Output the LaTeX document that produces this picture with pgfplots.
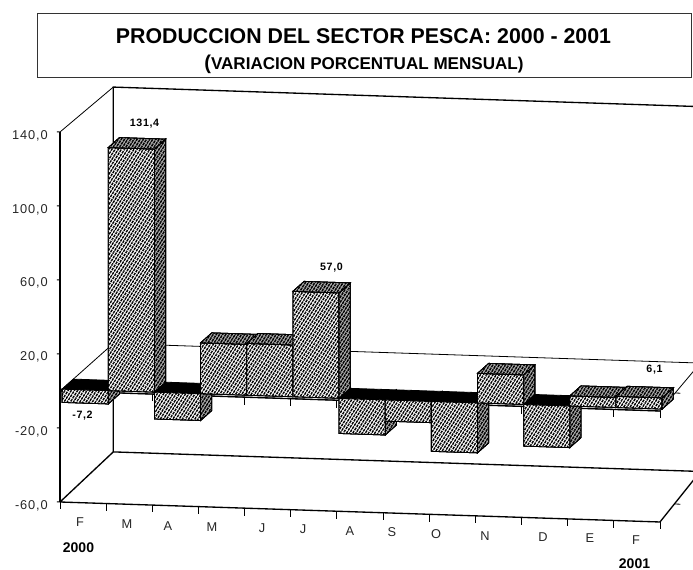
\documentclass[border=0pt]{standalone}
\usepackage{fontspec}
\usepackage{pgfplots}
\pgfplotsset{compat=1.18}
\usetikzlibrary{patterns.meta}
\setmainfont{Liberation Sans}
\newfontfamily\tickfont[LetterSpace=7]{Liberation Sans}
\newfontfamily\valfont[LetterSpace=6]{Liberation Sans}

% 1 px of the reference = 0.75pt
\tikzset{
  frontface/.style={draw=black, line width=0.6pt, fill=white,
    postaction={pattern={Lines[angle=58,distance=2pt,line width=1.05pt]},pattern color=black},
    postaction={pattern={Lines[angle=-32,distance=2.7pt,line width=0.4pt]},pattern color=white}},
  darkface/.style={draw=black, line width=0.6pt, fill=gray!60,
    postaction={pattern={Lines[angle=58,distance=2pt,line width=1.1pt]},pattern color=black},
    postaction={pattern={Lines[angle=-32,distance=2.7pt,line width=0.3pt]},pattern color=white!70!black}},
  blackface/.style={draw=black, line width=0.6pt, fill=black},
}

% x left, x right, value
\newcommand{\posbar}[3]{
  \addplot3[frontface] coordinates {(#1,0.04,0) (#2,0.04,0) (#2,0.04,#3) (#1,0.04,#3)} -- cycle;
  \addplot3[darkface] coordinates {(#2,0.04,0) (#2,0.25,0) (#2,0.25,#3) (#2,0.04,#3)} -- cycle;
  \addplot3[darkface] coordinates {(#1,0.04,#3) (#2,0.04,#3) (#2,0.25,#3) (#1,0.25,#3)} -- cycle;
}
\newcommand{\negbar}[3]{
  \addplot3[blackface] coordinates {(#1,0.04,0) (#2,0.04,0) (#2,0.25,0) (#1,0.25,0)} -- cycle;
  \addplot3[darkface] coordinates {(#2,0.04,0) (#2,0.25,0) (#2,0.25,#3) (#2,0.04,#3)} -- cycle;
  \addplot3[frontface] coordinates {(#1,0.04,0) (#2,0.04,0) (#2,0.04,#3) (#1,0.04,#3)} -- cycle;
}
% month tick under the front edge of a plane
\newcommand{\mtick}[2]{\addplot3[black, line width=0.7pt] coordinates {(#1,0,#2) (#1,0,#2-4)};}

\begin{document}
\begin{tikzpicture}
\useasboundingbox (0,0) rectangle (519.75pt,427.5pt);
\clip (0,0) rectangle (519.75pt,427.5pt);
\begin{axis}[
    anchor=origin, at={(45pt,134.25pt)},
    x={(34.615pt,-1.154pt)}, y={(39.975pt,35.625pt)}, z={(0pt,1.3875pt)},
    xmin=0, xmax=13, ymin=0, ymax=1, zmin=-60, zmax=140,
    axis lines=left,
    axis line style={-, line width=1pt},
    y axis line style={draw=none},
    x axis line style={draw=none},
    xtick=\empty, ytick=\empty,
    ztick={-60,-20,20,60,100,140},
    zticklabels={{-60,0},{-20,0},{20,0},{60,0},{100,0},{140,0}},
    z tick style={draw=none},
    major tick length=3.5pt,
    tick align=outside,
    z tick label style={font=\tickfont\fontsize{9.6}{11}\selectfont, text=black!85, xshift=-3pt, yshift=5.2pt},
    clip=false,
]
% floor
\addplot3[black, line width=1pt] coordinates {(0,0,-60) (13,0,-60) (12.72,1,-58.6) (0,1,-58.6) (0,0,-60)};
% back wall
\addplot3[black, line width=1pt] coordinates {(0,1,-58.6) (0,1,138.6) (12.72,1,138.6)};
\addplot3[black, line width=0.6pt] coordinates {(0,0,140) (0,1,138.6)};
% zero plane
\addplot3[black, line width=0.6pt] coordinates {(0,0,0) (13,0,0) (12.72,1,0) (0,1,0) (0,0,0)};
\addplot3[black, line width=1pt] coordinates {(0,0,0) (13,0,0)};
% value ticks
\addplot3[black, line width=0.7pt] coordinates {(0,0,-60) (-0.07,0,-60)};
\addplot3[black, line width=0.7pt] coordinates {(0,0,-20) (-0.07,0,-20)};
\addplot3[black, line width=0.7pt] coordinates {(0,0,20) (-0.07,0,20)};
\addplot3[black, line width=0.7pt] coordinates {(0,0,60) (-0.07,0,60)};
\addplot3[black, line width=0.7pt] coordinates {(0,0,100) (-0.07,0,100)};
\addplot3[black, line width=0.7pt] coordinates {(0,0,140) (-0.07,0,140)};
% month ticks
\addplot3[black, line width=0.7pt] coordinates {(0,0,-60) (0,0,-64)};
\addplot3[black, line width=0.7pt] coordinates {(1,0,-60) (1,0,-64)};
\addplot3[black, line width=0.7pt] coordinates {(2,0,-60) (2,0,-64)};
\addplot3[black, line width=0.7pt] coordinates {(3,0,-60) (3,0,-64)};
\addplot3[black, line width=0.7pt] coordinates {(4,0,-60) (4,0,-64)};
\addplot3[black, line width=0.7pt] coordinates {(5,0,-60) (5,0,-64)};
\addplot3[black, line width=0.7pt] coordinates {(6,0,-60) (6,0,-64)};
\addplot3[black, line width=0.7pt] coordinates {(7,0,-60) (7,0,-64)};
\addplot3[black, line width=0.7pt] coordinates {(8,0,-60) (8,0,-64)};
\addplot3[black, line width=0.7pt] coordinates {(9,0,-60) (9,0,-64)};
\addplot3[black, line width=0.7pt] coordinates {(10,0,-60) (10,0,-64)};
\addplot3[black, line width=0.7pt] coordinates {(11,0,-60) (11,0,-64)};
\addplot3[black, line width=0.7pt] coordinates {(12,0,-60) (12,0,-64)};
\addplot3[black, line width=0.7pt] coordinates {(13,0,-60) (13,0,-64)};
\addplot3[black, line width=0.7pt] coordinates {(0,0,0) (0,0,-4)};
\addplot3[black, line width=0.7pt] coordinates {(1,0,0) (1,0,-4)};
\addplot3[black, line width=0.7pt] coordinates {(2,0,0) (2,0,-4)};
\addplot3[black, line width=0.7pt] coordinates {(3,0,0) (3,0,-4)};
\addplot3[black, line width=0.7pt] coordinates {(4,0,0) (4,0,-4)};
\addplot3[black, line width=0.7pt] coordinates {(5,0,0) (5,0,-4)};
\addplot3[black, line width=0.7pt] coordinates {(6,0,0) (6,0,-4)};
\addplot3[black, line width=0.7pt] coordinates {(7,0,0) (7,0,-4)};
\addplot3[black, line width=0.7pt] coordinates {(8,0,0) (8,0,-4)};
\addplot3[black, line width=0.7pt] coordinates {(9,0,0) (9,0,-4)};
\addplot3[black, line width=0.7pt] coordinates {(10,0,0) (10,0,-4)};
\addplot3[black, line width=0.7pt] coordinates {(11,0,0) (11,0,-4)};
\addplot3[black, line width=0.7pt] coordinates {(12,0,0) (12,0,-4)};
\addplot3[black, line width=0.7pt] coordinates {(13,0,0) (13,0,-4)};
% depth ticks on the right
\addplot3[black, line width=0.6pt] coordinates {(12.895,0.375,-60) (13.01,0.375,-60)};
\addplot3[black, line width=0.6pt] coordinates {(12.895,0.375,0) (13.01,0.375,0)};
% bars, left to right
\negbar{0}{1}{-7.2}
\posbar{1}{2}{131.4}
\negbar{2}{3}{-14.5}
\posbar{3}{4}{27.5}
\posbar{4}{5}{28}
\posbar{5}{6}{57}
\negbar{6}{7}{-19}
\negbar{7}{8}{-11.5}
\negbar{8}{9}{-27}
\posbar{9}{10}{16}
\negbar{10}{11}{-22.5}
\posbar{11}{12}{5.5}
\posbar{12}{13}{6.1}
\end{axis}

% texts, placed in reference pixels
\begin{scope}[x=0.75pt, y=-0.75pt, yshift=427.5pt]
\draw[black!80, line width=0.75pt] (37.5,13.5) rectangle (691,78);
\node[font=\fontsize{16}{18}\bfseries\selectfont, inner sep=0] at (363.5,36.5) {PRODUCCION DEL SECTOR PESCA: 2000 - 2001};
\node[font=\fontsize{12.8}{14}\bfseries\selectfont, inner sep=0] at (364,64.5) {{\fontsize{15}{16}\selectfont(}VARIACION PORCENTUAL MENSUAL)};
\foreach \tx/\ty/\lab in {80/522/F,127/524/M,168/526/A,212/527/M,262/528/J,303/529/J,350/531/A,392/532/S,436/534/O,485/536.5/N,543/537/D,590/538/E,636/540/F}
  \node[font=\tickfont\fontsize{9.6}{11}\selectfont, text=black!85, inner sep=0] at (\tx,\ty) {\lab};
\node[font=\fontsize{10.5}{12}\bfseries\selectfont, inner sep=0] at (78.5,547.5) {2000};
\node[font=\fontsize{10.5}{12}\bfseries\selectfont, inner sep=0] at (634.5,563.5) {2001};
\node[font=\valfont\fontsize{8}{9}\bfseries\selectfont, inner sep=0] at (144.5,123.5) {131,4};
\node[font=\valfont\fontsize{8}{9}\bfseries\selectfont, inner sep=0] at (331.5,267.5) {57,0};
\node[font=\valfont\fontsize{8}{9}\bfseries\selectfont, inner sep=0] at (82.5,416) {-7,2};
\node[font=\valfont\fontsize{8}{9}\bfseries\selectfont, inner sep=0] at (654.5,370) {6,1};
\end{scope}
\end{tikzpicture}
\end{document}
